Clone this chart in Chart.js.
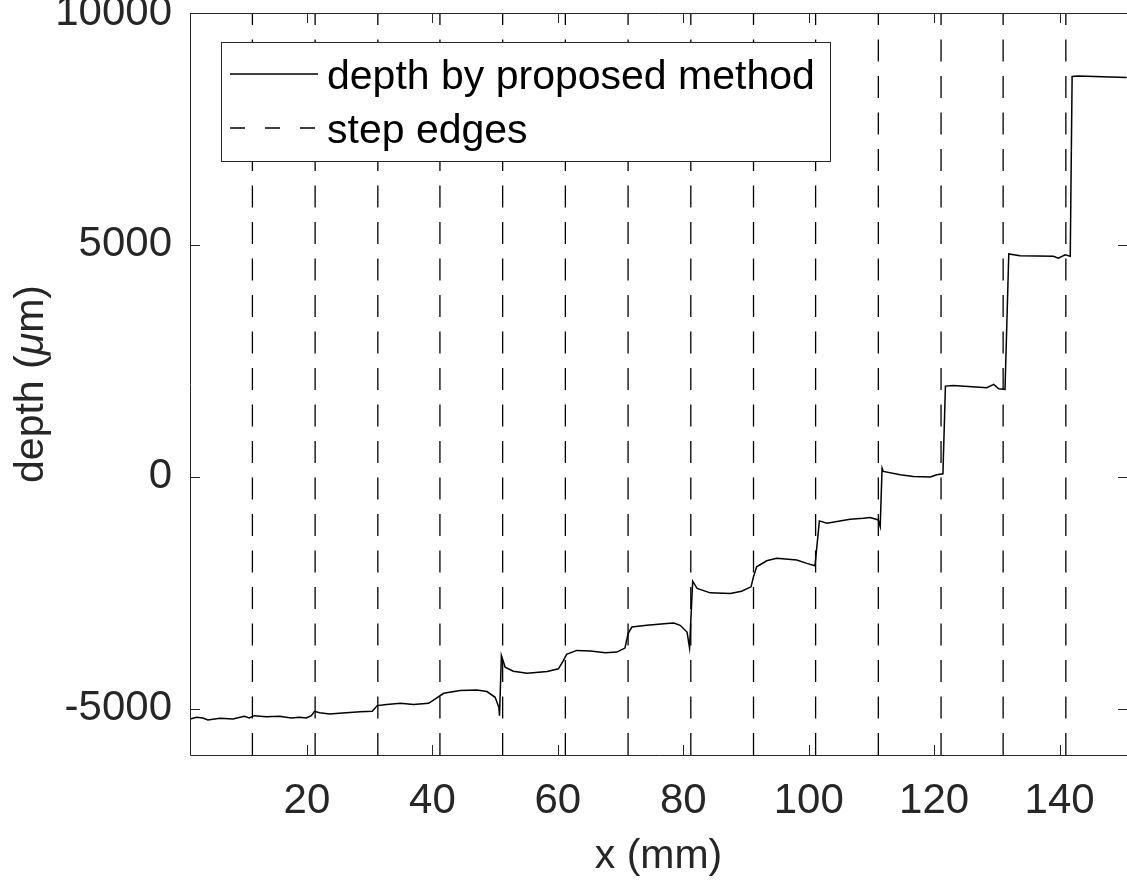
<!DOCTYPE html>
<html>
<head>
<meta charset="utf-8">
<script src="https://cdn.jsdelivr.net/npm/chart.js@4"></script>
<style>
  html, body { margin: 0; padding: 0; background: #fff; }
  #wrap { width: 1127px; height: 884px; }
</style>
</head>
<body>
<div id="wrap"><canvas id="depthChart"></canvas></div>
<script>
// measured profile (x in mm, depth in um)
const xVals = [1.4, 2.4, 3.4, 4.2, 6.1, 8.2, 10.0, 10.8, 11.6, 13.5, 15.6, 17.5, 18.8, 19.9, 20.7, 21.2, 22.0, 23.6, 25.7, 28.5,
  30.4, 31.2, 32.7, 34.9, 37.0, 39.4, 40.7, 41.8, 44.4, 47.1, 48.7, 50.0, 50.6, 50.7, 51.0, 51.6, 52.9, 55.1, 58.3, 60.1,
  60.9, 61.4, 63.0, 65.2, 67.6, 69.4, 70.7, 71.2, 71.8, 74.2, 77.4, 78.5, 79.5, 80.6, 81.0, 81.5, 82.2, 84.3, 87.5, 89.3,
  90.8, 91.2, 91.7, 93.3, 94.9, 98.1, 99.7, 101.0, 101.7, 102.9, 106.6, 108.7, 109.8, 111.1, 111.4, 111.7, 111.9, 114.6, 116.7, 119.4,
  120.4, 121.4, 121.8, 123.1, 128.4, 129.5, 130.3, 131.3, 131.9, 133.7, 139.0, 139.8, 140.9, 141.7, 142.0, 143.0, 150.7];
const depthVals = [-5223, -5188, -5201, -5245, -5210, -5223, -5167, -5201, -5152, -5173, -5167, -5201, -5188, -5201, -5152, -5058, -5087, -5115, -5094, -5065,
  -5058, -4935, -4913, -4885, -4913, -4885, -4769, -4669, -4610, -4596, -4632, -4755, -4972, -5152, -3853, -4106, -4192, -4235, -4199, -4141,
  -3961, -3831, -3745, -3759, -3795, -3781, -3695, -3383, -3240, -3203, -3167, -3153, -3203, -3348, -3690, -2251, -2409, -2504, -2518, -2468,
  -2374, -2158, -1942, -1812, -1760, -1797, -1868, -1920, -952, -1002, -916, -895, -880, -931, -1075, 188, 115, 43, 7, -7,
  43, 65, 1955, 1970, 1920, 1991, 1898, 1883, 4805, 4768, 4755, 4712, 4784, 4755, 8630, 8643, 8608];

// step edge positions (mm)
const edgeX = [11.3, 21.3, 31.3, 41.2, 51.2, 61.2, 71.2, 81.2, 91.2, 101.1, 111.1, 121.1, 131.0, 141.0];

const xTicks = [20, 40, 60, 80, 100, 120, 140];
const yTicks = [-5000, 0, 5000, 10000];
const xRange = [1.35, 150.75];
const yRange = [-6000, 10000];

const FONT = 'Liberation Sans, Arial, Helvetica, sans-serif';
const AXIS_COLOR = '#262626';

let depthPoints = xVals.map((x, i) => ({ x: x, y: depthVals[i] }));

let edgePoints = [];
edgeX.forEach(x => {
    edgePoints.push({ x: x, y: yRange[0] });
    edgePoints.push({ x: x, y: yRange[1] });
    edgePoints.push({ x: x, y: null });
});

// matlab-like box with inward ticks (right edge sits just off the canvas)
const axesBox = {
    id: 'axesBox',
    afterDatasetsDraw(chart) {
        const ctx = chart.ctx;
        const a = chart.chartArea;
        const xs = chart.scales.x, ys = chart.scales.y;
        const tl = 10;
        ctx.save();
        ctx.strokeStyle = AXIS_COLOR;
        ctx.lineWidth = 1;
        ctx.beginPath();
        ctx.moveTo(a.right + 1, a.top + 0.5);
        ctx.lineTo(a.left + 0.5, a.top + 0.5);
        ctx.lineTo(a.left + 0.5, a.bottom + 0.5);
        ctx.lineTo(a.right + 1, a.bottom + 0.5);
        xTicks.forEach(v => {
            const px = Math.round(xs.getPixelForValue(v)) + 0.5;
            ctx.moveTo(px, a.bottom); ctx.lineTo(px, a.bottom - tl);
            ctx.moveTo(px, a.top); ctx.lineTo(px, a.top + tl);
        });
        yTicks.forEach(v => {
            const py = Math.round(ys.getPixelForValue(v)) + 0.5;
            ctx.moveTo(a.left, py); ctx.lineTo(a.left + tl, py);
            ctx.moveTo(a.right + 1, py); ctx.lineTo(a.right + 1 - tl, py);
        });
        ctx.stroke();
        ctx.restore();
    }
};

// legend box in the top-left corner
const boxLegend = {
    id: 'boxLegend',
    afterDatasetsDraw(chart) {
        const ctx = chart.ctx;
        const bx = 221, by = 42, bw = 609, bh = 119;
        ctx.save();
        ctx.fillStyle = '#fff';
        ctx.fillRect(bx, by, bw, bh);
        ctx.strokeStyle = AXIS_COLOR;
        ctx.lineWidth = 1;
        ctx.strokeRect(bx + 0.5, by + 0.5, bw, bh);

        const rows = [74, 128];
        chart.data.datasets.forEach((ds, i) => {
            const y = rows[i];
            ctx.strokeStyle = '#000';
            ctx.lineWidth = 1.3;
            ctx.setLineDash(ds.borderDash && ds.borderDash.length ? [15, 20] : []);
            ctx.beginPath();
            ctx.moveTo(230, y);
            ctx.lineTo(318, y);
            ctx.stroke();
            ctx.setLineDash([]);
            ctx.fillStyle = '#000';
            ctx.font = '41px ' + FONT;
            ctx.textBaseline = 'alphabetic';
            ctx.textAlign = 'left';
            ctx.fillText(ds.label, 327, y + 15);
        });
        ctx.restore();
    }
};

// y title with italic mu
const yTitle = {
    id: 'yTitle',
    afterDraw(chart) {
        const ctx = chart.ctx;
        const a = chart.chartArea;
        const parts = [['depth (', 'normal'], ['\u03bc', 'italic'], ['m)', 'normal']];
        ctx.save();
        ctx.translate(43, (a.top + a.bottom) / 2);
        ctx.rotate(-Math.PI / 2);
        ctx.fillStyle = AXIS_COLOR;
        ctx.textBaseline = 'alphabetic';
        ctx.textAlign = 'left';
        let total = 0;
        parts.forEach(p => { ctx.font = p[1] + ' 41px ' + FONT; total += ctx.measureText(p[0]).width; });
        let x = -total / 2;
        parts.forEach(p => {
            ctx.font = p[1] + ' 41px ' + FONT;
            ctx.fillText(p[0], x, 0);
            x += ctx.measureText(p[0]).width;
        });
        ctx.restore();
    }
};

new Chart(document.getElementById('depthChart'), {
    type: 'line',
    data: {
        datasets: [{
            label: 'depth by proposed method',
            data: depthPoints,
            borderColor: '#000',
            borderWidth: 1.5,
            pointRadius: 0,
            tension: 0
        }, {
            label: 'step edges',
            data: edgePoints,
            borderColor: '#000',
            borderWidth: 1.3,
            borderDash: [22, 14.5],
            pointRadius: 0,
            spanGaps: false,
            tension: 0
        }]
    },
    options: {
        responsive: true,
        maintainAspectRatio: false,
        animation: false,
        layout: { padding: { top: 13, left: 0, right: 0, bottom: 0 } },
        plugins: { legend: { display: false }, tooltip: { enabled: false } },
        scales: {
            x: {
                type: 'linear',
                min: xRange[0],
                max: xRange[1],
                grid: { display: false, drawTicks: false },
                border: { display: false },
                afterBuildTicks: s => { s.ticks = xTicks.map(v => ({ value: v })); },
                afterFit: s => { s.height = 129; s.paddingLeft = 0; s.paddingRight = 0; },
                ticks: { font: { family: FONT, size: 42 }, color: AXIS_COLOR, padding: 21, maxRotation: 0 },
                title: { display: true, text: 'x (mm)', font: { family: FONT, size: 41 }, color: AXIS_COLOR, padding: { top: 0, bottom: 3 } }
            },
            y: {
                type: 'linear',
                min: yRange[0],
                max: yRange[1],
                grid: { display: false, drawTicks: false },
                border: { display: false },
                afterBuildTicks: s => { s.ticks = yTicks.map(v => ({ value: v })); },
                afterFit: s => { s.width = 190; s.paddingTop = 0; s.paddingBottom = 0; },
                ticks: { font: { family: FONT, size: 42 }, color: AXIS_COLOR, padding: 18, callback: v => String(v) }
            }
        }
    },
    plugins: [axesBox, boxLegend, yTitle]
});
</script>
</body>
</html>
